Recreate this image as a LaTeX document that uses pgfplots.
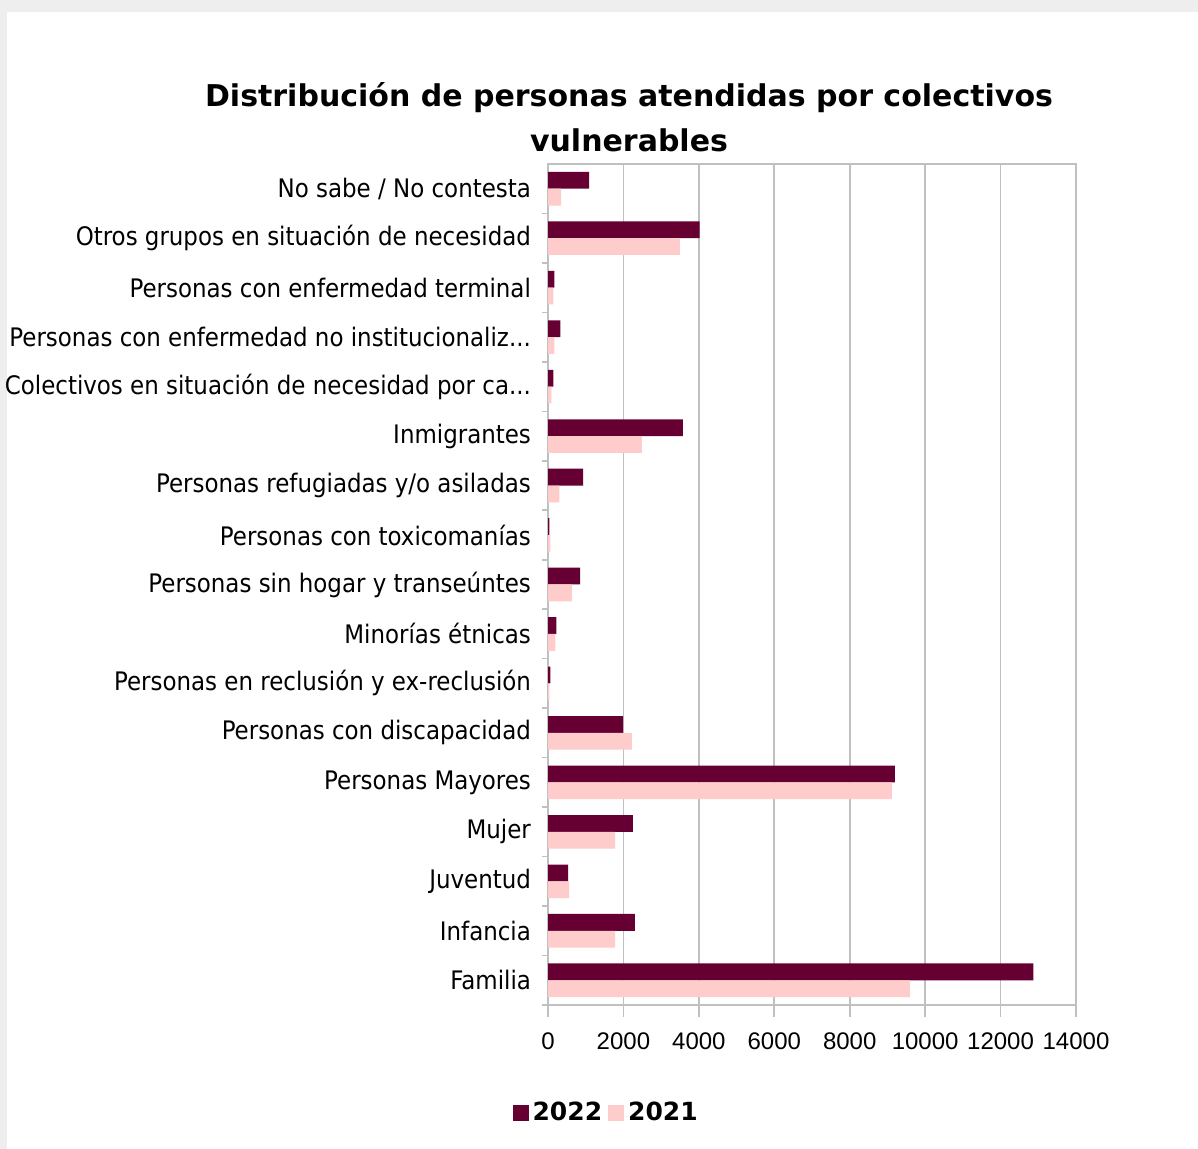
\documentclass[border=0pt]{standalone}
\usepackage{fontspec}
\usepackage{pgfplots}
\pgfplotsset{compat=1.18}
\setmainfont{DejaVu Sans}
\newfontfamily\labelfont{DejaVu Sans Condensed}
\newfontfamily\numfont{Liberation Sans}
\newfontfamily\titlefont{DejaVu Sans}
\newcommand\dd{...}
\definecolor{darkbar}{HTML}{660033}
\definecolor{pinkbar}{HTML}{FFCCCC}
\definecolor{gridc}{RGB}{192,192,192}
\definecolor{bgc}{RGB}{238,238,238}
\begin{document}
\begin{tikzpicture}[x=1pt,y=1pt]
\fill[bgc] (0,0) rectangle (599,574.5);
\fill[white] (3.5,0) rectangle (599,568.5);
\node[align=center,font=\titlefont\bfseries\fontsize{15}{22.5}\selectfont] at (314.5,515.75)
  {Distribución de personas atendidas por colectivos\\vulnerables};
\begin{axis}[
  at={(274pt,72pt)}, anchor=south west,
  scale only axis, width=264pt, height=420.5pt,
  xmin=0, xmax=14000, ymin=-0.5, ymax=16.5,
  xtick={0,2000,...,14000},
  scaled x ticks=false,
  tick pos=left,
  /pgf/number format/1000 sep={},
  /pgf/number format/assume math mode=true,
  xticklabel style={font=\numfont\fontsize{12}{14}\selectfont, yshift=-4.5pt},
  xmajorgrids, grid style={draw=gridc, line width=0.8pt},
  axis line style={draw=gridc, line width=0.8pt},
  x tick style={draw=gridc, line width=0.8pt},
  xtick align=outside, major tick length=6pt,
  ytick={0,...,16},
  y tick style={draw=none},
  yticklabels={Familia,Infancia,Juventud,Mujer,Personas Mayores,Personas con discapacidad,Personas en reclusión y ex-reclusión,Minorías étnicas,Personas sin hogar y transeúntes,Personas con toxicomanías,Personas refugiadas y/o asiladas,Inmigrantes,Colectivos en situación de necesidad por ca\dd,Personas con enfermedad no institucionaliz\dd,Personas con enfermedad terminal,Otros grupos en situación de necesidad,No sabe / No contesta},
  yticklabel style={font=\labelfont\fontsize{12.75}{15}\selectfont, anchor=east, xshift=-5pt},
  extra y ticks={-0.5,0.5,1.5,2.5,3.5,4.5,5.5,6.5,7.5,8.5,9.5,10.5,11.5,12.5,13.5,14.5,15.5},
  extra y tick labels={},
  extra y tick style={ytick align=outside, major tick length=3pt, y tick style={draw=gridc, line width=0.8pt}, grid=none},
  legend style={at={(0.112,-0.128)}, anchor=center, draw=none, fill=none, legend columns=2,
    font=\titlefont\bfseries\fontsize{12.5}{14}\selectfont,
    /tikz/every even column/.append style={column sep=1pt}},
  legend image code/.code={\fill[#1] (-2pt,-4pt) rectangle (6pt,4pt);},
  clip=false,
]
\addplot[xbar, bar width=8.4pt, bar shift=4.2pt, fill=darkbar, draw=none] coordinates {
(12872,0) (2306,1) (536,2) (2253,3) (9200,4) (1990,5) (61,6) (219,7) (853,8) (34,9) (933,10) (3575,11) (140,12) (325,13) (166,14) (4020,15) (1090,16)};
\addlegendentry{2022}
\addplot[xbar, bar width=8.4pt, bar shift=-4.2pt, fill=pinkbar, draw=none] coordinates {
(9598,0) (1778,1) (563,2) (1778,3) (9121,4) (2227,5) (34,6) (193,7) (642,8) (61,9) (299,10) (2491,11) (87,12) (166,13) (140,14) (3495,15) (350,16)};
\addlegendentry{2021}
\end{axis}
\pgfresetboundingbox
\path[use as bounding box] (0,0) rectangle (599,574.5);
\end{tikzpicture}
\end{document}
